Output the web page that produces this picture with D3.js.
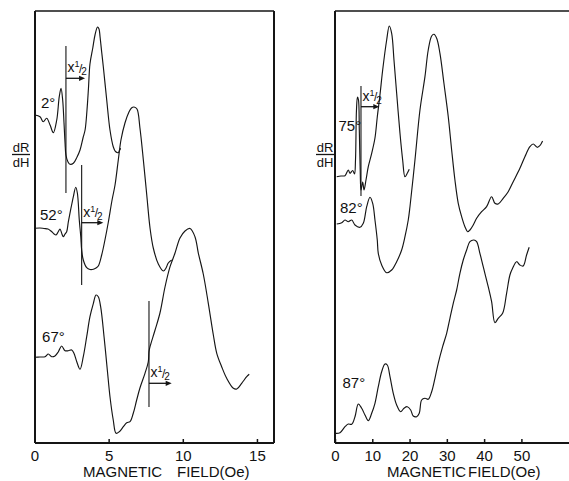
<!DOCTYPE html>
<html><head><meta charset="utf-8">
<script src="https://cdn.jsdelivr.net/npm/d3@7"></script>
<style>
body{margin:0;background:#fff}
svg{display:block}
text{font-family:"Liberation Sans",Arial,sans-serif;fill:#111}
</style>
</head><body>
<svg id="c" width="569" height="481"></svg>
<script>
// ---------- data (field in Oe, dR/dH in arbitrary units) ----------
const angleLabels = ["2°", "52°", "67°", "75°", "82°", "87°"];
const leftTicks = [0, 5, 10, 15];
const rightTicks = [0, 10, 20, 30, 40, 50];

const field2 = [0.03,0.37,0.59,0.82,1.05,1.27,1.50,1.67,1.79,1.90,1.99,2.06,2.12,2.26,2.39,2.62,2.87,3.07,3.27,3.41,3.54,3.64,3.74,3.93,4.08,4.25,4.35,4.42,4.53,4.64,4.87,5.09,5.31,5.46,5.65,5.73,5.81];
const value2 = [328,326.3,321.3,324.7,318,310.3,323,346.3,354.7,343,320,300,288,281,278.7,279.7,286,293,305,313,333,355,379,395,408,416,414,406.3,391,376.3,343,313,296.3,291.5,290.3,292.5,294.7];

const field52 = [0.03,0.37,0.64,0.91,1.11,1.32,1.45,1.59,1.72,1.85,1.94,2.06,2.17,2.28,2.39,2.53,2.62,2.78,2.89,3.02,3.12,3.18,3.29,3.52,3.74,3.97,4.15,4.30,4.53,4.75,4.98,5.23,5.43,5.65,5.83,6.10,6.37,6.54,6.71,6.91,7.11,7.34,7.57,7.79,8.01,8.35,8.69,8.87,9.02,9.25];
const value52 = [214.7,215,214.5,214,212,209,208,211,214,209,206.3,209,211.3,221,229.7,240,246.3,255.7,250,223,206.3,193,183,175.3,173.5,173.7,175,177,188,203,221,243,258,283,303,320,331,335,336,334,315,283,248,215,195,179,172,175,180,183];

const field67 = [0.03,0.37,0.71,0.93,1.16,1.38,1.61,1.83,2.06,2.28,2.51,2.66,2.85,3.07,3.29,3.52,3.74,3.97,4.15,4.30,4.46,4.69,4.91,5.09,5.31,5.50,5.72,5.99,6.22,6.44,6.66,6.89,7.11,7.45,7.67,7.72,7.79,8.13,8.46,8.80,9.14,9.47,9.81,10.15,10.49,10.82,11.05,11.38,11.72,12.06,12.29,12.62,12.96,13.41,13.64,13.97,14.31,14.48];
const value67 = [85.7,86,86.3,89,86.3,87,91.3,97,92.3,92.3,93,89.7,81.3,73.7,86.3,106.3,126.3,139.7,148,146.3,136.3,106.3,73,46.3,23,9.7,11.3,16.3,20.3,21.3,29.7,43,55,69.7,81,91.3,96.3,113,130,156,176.3,189.7,205,212,214.5,206.3,189.7,169,139.7,108,89.7,76.3,64.7,54.7,54,59.7,66.3,68.7];

const field75 = [0.46,1.61,2.68,3.57,4.02,4.75,5.23,5.50,5.76,6.03,6.30,6.52,6.76,6.97,7.43,7.78,8.31,8.93,9.84,10.72,11.34,12.06,12.79,13.86,14.56,15.20,15.82,16.54,17.43,18.15,18.77,19.38,19.92];
const value75 = [266.3,267,267.3,273,269.7,272.5,269,283,333,346,343,313,273,253,261,253,263,276.3,289.7,305,326,348,373,403,417,409.7,383,349.7,309.7,283,266.3,269.7,273.7];

const field82 = [0.46,1.80,2.68,3.57,4.48,5.36,6.70,7.59,8.50,9.38,10.11,10.72,11.34,11.61,12.52,13.86,15.20,16.54,17.88,18.77,19.65,20.11,21.45,22.79,24.13,25.01,25.93,26.54,27.27,28.15,29.22,30.38,31.29,32.17,33.06,33.97,34.85,35.58,36.19,37.08,37.99,39.33,40.67,42.01,42.90,43.78,45.12,46.46,47.80,49.60,50.94,52.28,53.16,54.24,54.96,55.68];
const value82 = [219,220.3,223,221.3,223,218,215.7,219.7,236.3,245.7,239.7,223,203,189.7,178,170.3,173,181.3,193,206.3,223,236.3,283,333,366.3,393,407,408.7,404.7,389.7,359.7,326.3,293,263,239.7,226.3,216.3,211.3,213,218,224.7,231.3,236.3,246.3,239.7,239,244.7,251.3,261.3,274.7,286.3,296.3,299,295.7,297.3,302];

const field87 = [0,1.34,2.68,3.57,4.48,5.36,6.25,7.16,8.04,8.93,9.84,10.72,11.61,12.52,13.41,14.02,14.75,15.63,16.54,17.61,18.50,19.38,20.30,20.99,21.90,22.60,23.24,24.13,25.01,25.93,26.81,27.69,28.87,29.95,30.83,31.72,32.63,33.51,34.40,35.31,36.19,37.27,37.99,38.87,39.76,41.10,42.01,42.90,43.78,44.96,46.03,46.92,47.64,48.71,49.60,50.48,51.39,52.09];
const value87 = [9.7,10.3,16.3,19,18.7,26.3,39,34.7,28,22.3,29.7,39.7,56.3,71.3,79,78,66.3,49.7,38,31.3,34.7,36.3,33,27,26.3,29.7,43,44.7,43.7,51.3,64.7,79.7,96.3,109.7,124.7,139.7,153,169.7,183,193,201.3,203,201.3,189.7,176.3,156.3,141.3,120.3,124.7,129.7,149.7,168,174.7,181.3,178,177,188,195.7];

// gain-change (x1/2) markers: field, line top/bottom value, arrow value, arrow end field
const markerPanel = ["L", "L", "L", "R"];
const markerField = [2.12, 3.18, 7.72, 6.97];
const markerTop = [397, 278, 142, 357];
const markerBottom = [250, 158, 36, 247];
const arrowValue = [364.7, 220.3, 59.7, 336.3];
const arrowEnd = [3.41, 4.64, 9.25, 11.88];

// ---------- layout ----------
const svg = d3.select("#c");
const yS = d3.scaleLinear().domain([0, 432]).range([443, 11]);
const xL = d3.scaleLinear().domain([0, 16.15]).range([34.5, 274]);
const xR = d3.scaleLinear().domain([0, 62.5]).range([335, 568]);
const ink = "#151515";

function frame(x0, x1, right) {
  const g = svg.append("g").attr("stroke", ink).attr("stroke-width", 2).attr("fill", "none");
  g.append("line").attr("x1", x0).attr("x2", x1).attr("y1", 11).attr("y2", 11).attr("stroke-width", 1.6);
  g.append("line").attr("x1", x0).attr("x2", x0).attr("y1", 11).attr("y2", 443);
  g.append("line").attr("x1", x0).attr("x2", x1).attr("y1", 443).attr("y2", 443);
  if (right) g.append("line").attr("x1", x1).attr("x2", x1).attr("y1", 11).attr("y2", 443);
}
frame(35, 274, true);
frame(335, 569, false);

function axis(scale, ticks) {
  const g = svg.append("g").attr("transform", "translate(0,443)")
    .call(d3.axisBottom(scale).tickValues(ticks).tickSizeInner(-4).tickSizeOuter(0).tickPadding(7).tickFormat(d3.format("d")));
  g.select(".domain").remove();
  g.selectAll("line").attr("stroke", ink).attr("stroke-width", 1.5);
  g.selectAll("text").attr("font-size", 15).attr("font-family", "Liberation Sans, Arial, sans-serif").attr("fill", ink);
}
axis(xL, leftTicks);
axis(xR, rightTicks);

// axis titles
function xTitle(x1, x2) {
  svg.append("text").attr("x", x1).attr("y", 477).attr("font-size", 15).text("MAGNETIC");
  svg.append("text").attr("x", x2).attr("y", 477).attr("font-size", 15).text("FIELD(Oe)");
}
xTitle(83, 177);
xTitle(387, 468);

function yTitle(cx) {
  svg.append("text").attr("x", cx).attr("y", 152).attr("text-anchor", "middle").attr("font-size", 13).text("dR");
  svg.append("line").attr("x1", cx - 9).attr("x2", cx + 9).attr("y1", 154.5).attr("y2", 154.5).attr("stroke", ink).attr("stroke-width", 1.3);
  svg.append("text").attr("x", cx).attr("y", 167).attr("text-anchor", "middle").attr("font-size", 13).text("dH");
}
yTitle(21);
yTitle(325);

// curves
const curves = [
  {x: xL, f: field2, v: value2},
  {x: xL, f: field52, v: value52},
  {x: xL, f: field67, v: value67},
  {x: xR, f: field75, v: value75},
  {x: xR, f: field82, v: value82},
  {x: xR, f: field87, v: value87}
];
curves.forEach(c => {
  const pts = c.f.map((f, i) => [f, c.v[i]]);
  const line = d3.line().x(d => c.x(d[0])).y(d => yS(d[1])).curve(d3.curveCatmullRom.alpha(0.5));
  svg.append("path").attr("d", line(pts)).attr("fill", "none").attr("stroke", ink).attr("stroke-width", 1.15).attr("stroke-linejoin", "round");
});

// angle labels (placement in data units)
const labelField = [0.44, 0.37, 0.51, 0.94, 1.34, 2.01];
const labelValue = [335, 223, 101, 312, 230, 55];
angleLabels.forEach((t, i) => {
  const sx = i < 3 ? xL : xR;
  svg.append("text").attr("x", sx(labelField[i])).attr("y", yS(labelValue[i])).attr("font-size", 15).text(t);
});

// x1/2 markers
markerField.forEach((mf, i) => {
  const sx = markerPanel[i] === "L" ? xL : xR;
  const x = sx(mf);
  svg.append("line").attr("x1", x).attr("x2", x).attr("y1", yS(markerTop[i])).attr("y2", yS(markerBottom[i]))
    .attr("stroke", ink).attr("stroke-width", 1.1);
  const ay = yS(arrowValue[i]);
  const xe = sx(arrowEnd[i]);
  svg.append("line").attr("x1", x).attr("x2", xe - 3).attr("y1", ay).attr("y2", ay).attr("stroke", ink).attr("stroke-width", 1.3);
  svg.append("path").attr("d", `M${xe},${ay} L${xe - 6},${ay - 2.6} L${xe - 6},${ay + 2.6} Z`).attr("fill", ink);
  const t = svg.append("text").attr("x", x + 1.5).attr("y", ay - 6).attr("font-size", 14);
  t.append("tspan").text("x");
  t.append("tspan").attr("font-size", 9).attr("dy", -5).text("1");
  t.append("tspan").attr("font-size", 12).attr("dy", 5.5).attr("dx", -0.5).text("/");
  t.append("tspan").attr("font-size", 10).attr("dy", 2.5).attr("dx", -1).text("2");
});
</script>
</body></html>
